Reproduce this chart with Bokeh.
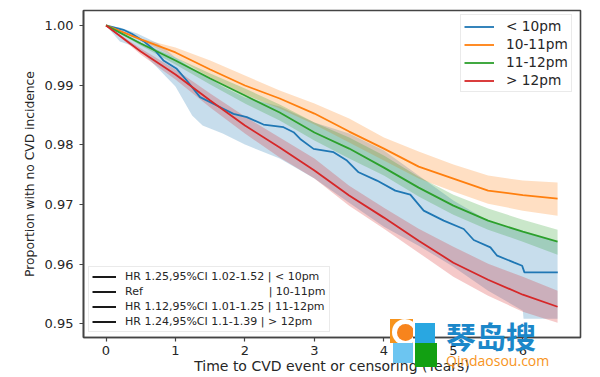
from bokeh.plotting import figure
from bokeh.embed import file_html
from bokeh.resources import INLINE
from bokeh.layouts import column
from bokeh.models import Legend, LegendItem, Range1d, FixedTicker, PrintfTickFormatter, Div

NB = "\u00a0"
NAN = float("nan")
t = [0, .5, 1, 1.5, 2, 2.5, 3, 3.5, 4, 4.5, 5, 5.5, 6, 6.5]

orange = [1, .99765, .99547, .99262, .98993, .98775, .98523, .98221, .97936, .97634, .97433, .97232, .97156, .97097]
orange_hi = [1, .99782, .99631, .99413, .99161, .98909, .98691, .9844, .98121, .97886, .97668, .97483, .97399, .97366]
orange_lo = [1, .99748, .99463, .99128, .98842, .98607, .98339, .98037, .97735, .97433, .97215, .97013, .96896, .96812]

green = [1, .99698, .99413, .99111, .98826, .9854, .98205, .97936, .97617, .97282, .9698, .96728, .96544, .96376]
green_hi = [1, .99715, .99463, .99195, .98943, .98674, .98372, .98121, .97819, .97466, .97164, .9693, .96745, .96577]
green_lo = [1, .99664, .99346, .9901, .98691, .98406, .9807, .97768, .97483, .97131, .96829, .96577, .96376, .96158]

red = [1, .99564, .99178, .98742, .98322, .97953, .97567, .97148, .96779, .96393, .96023, .95738, .95487, .95285]
red_hi = [1, .99614, .99262, .98859, .98473, .98121, .97768, .97315, .96946, .96594, .96292, .96007, .95789, .95554]
red_lo = [1, .99513, .99094, .98624, .98188, .97785, .97433, .9698, .96594, .96191, .95789, .9547, .95201, .95017]

blue_t = [0, .25, .37, .54, .706, .826, 1.018, 1.162, 1.354, 1.595, 1.835, 2.027, 2.267, 2.555, 2.70, 2.795, 2.988,
          3.276, 3.468, 3.636, 3.90, 4.164, 4.38, 4.573, 4.861, 5.149, 5.293, 5.533, 5.63, 5.869, 5.99, 6.023, 6.503]
blue = [1, .99927, .9986, .99737, .9958, .99413, .99273, .99077, .98798, .98658, .98518, .98462, .98339, .98294, .9821,
        .98098, .97931, .97875, .97735, .97539, .974, .97232, .97164, .96896, .96728, .96588, .96404, .96281, .96141,
        .96029, .95973, .95861, .95861]
blue_band_t = [0, .2, .45, .75, 1, 1.24, 1.39, 1.68, 2, 2.5, 3, 3.5, 4, 4.5, 5, 5.5, 6, 6.01, 6.5]
blue_hi = [1, .99966, .99866, .99698, .99463, .99279, .99178, .98977, .98792, .98641, .98372, .98188, .97903, .97483,
           .97064, .96728, .96544, .96544, .96376]
blue_lo = [1, .99732, .99631, .99279, .98977, .9849, .98322, .98188, .98003, .97768, .97433, .9703, .96628, .96309,
           .95956, .95554, .95218, .95084, .95084]

time_labels = ["< 10pm", "10-11pm", "11-12pm", "> 12pm"]
hr_labels = ["HR 1.25,95%CI 1.02-1.52 | < 10pm",
             "Ref" + NB * 36 + "| 10-11pm",
             "HR 1.12,95%CI 1.01-1.25 | 11-12pm",
             "HR 1.24,95%CI 1.1-1.39 | > 12pm"]
x_ticks = [0, 1, 2, 3, 4, 5, 6]
y_ticks = [.95, .96, .97, .98, .99, 1.0]
colors = ["#1f77b4", "#ff7f0e", "#2ca02c", "#d62728"]
FONT = "DejaVu Sans"
INK = "#262626"

p = figure(width=600, height=377, output_backend="svg", toolbar_location=None,
           x_range=Range1d(-.324, 6.83), y_range=Range1d(.9477, 1.0025),
           min_border_left=83, min_border_right=20, min_border_top=10, min_border_bottom=40,
           x_axis_label="Time to CVD event or censoring (Years)",
           y_axis_label="Proportion with no CVD incidence")
p.grid.visible = False
p.outline_line_color = "#444444"
p.outline_line_width = 1.6
for ax in (p.xaxis[0], p.yaxis[0]):
    ax.axis_line_color = "#444444"
    ax.axis_line_width = 1.6
    ax.major_tick_line_color = "#444444"
    ax.major_tick_line_width = 1.2
    ax.major_tick_out = 4
    ax.major_tick_in = 0
    ax.minor_tick_line_color = None
    ax.major_label_text_font = FONT
    ax.major_label_text_font_size = "13px"
    ax.major_label_text_color = INK
    ax.axis_label_text_font = FONT
    ax.axis_label_text_font_style = "normal"
    ax.axis_label_text_color = INK
p.xaxis.ticker = FixedTicker(ticks=x_ticks)
p.yaxis.ticker = FixedTicker(ticks=y_ticks)
p.yaxis.formatter = PrintfTickFormatter(format="%.2f")
p.xaxis.axis_label_text_font_size = "14px"
p.yaxis.axis_label_text_font_size = "12.3px"
p.xaxis.major_label_standoff = 4
p.xaxis.axis_label_standoff = 0
p.yaxis.major_label_standoff = 6
p.yaxis.axis_label_standoff = 5

p.varea(blue_band_t, blue_lo, blue_hi, fill_color=colors[0], fill_alpha=.25)
p.varea(t, orange_lo, orange_hi, fill_color=colors[1], fill_alpha=.25)
p.varea(t, green_lo, green_hi, fill_color=colors[2], fill_alpha=.25)
p.varea(t, red_lo, red_hi, fill_color=colors[3], fill_alpha=.25)
r0 = p.line(blue_t, blue, line_color=colors[0], line_width=1.8)
r1 = p.line(t, orange, line_color=colors[1], line_width=1.8)
r2 = p.line(t, green, line_color=colors[2], line_width=1.8)
r3 = p.line(t, red, line_color=colors[3], line_width=1.8)

leg1 = Legend(items=[LegendItem(label=l, renderers=[r]) for l, r in zip(time_labels, [r0, r1, r2, r3])],
              location=(377, 245), orientation="vertical", margin=0, padding=3, spacing=2,
              glyph_width=30, glyph_height=15, label_height=15, label_standoff=12,
              label_text_font=FONT, label_text_font_size="13.7px", label_text_color=INK,
              border_line_color="#d5d5d5", border_line_width=1.2, background_fill_alpha=.9)
p.add_layout(leg1)

black = [p.line([0, 0], [NAN, NAN], line_color="black", line_width=1.8) for _ in hr_labels]
leg2 = Legend(items=[LegendItem(label=l, renderers=[r]) for l, r in zip(hr_labels, black)],
              location=(5, 5), orientation="vertical", margin=0, padding=3, spacing=2,
              glyph_width=24, glyph_height=13, label_height=13, label_standoff=9,
              label_text_font=FONT, label_text_font_size="11px", label_text_color=INK,
              border_line_color="#d5d5d5", border_line_width=1.2, background_fill_alpha=.9)
p.add_layout(leg2)


def box(x, y, w, h, color, inner=""):
    return (f'<div style="position:absolute;left:{x}px;top:{y}px;width:{w}px;height:{h}px;'
            f'background:{color};overflow:hidden">{inner}</div>')


def text(x, y, s, font, size, color, weight="normal"):
    return (f'<div style="position:absolute;left:{x}px;top:{y}px;white-space:nowrap;line-height:1;'
            f'font-family:\'{font}\';font-size:{size}px;font-weight:{weight};color:{color}">{s}</div>')


ring = ('<div style="position:absolute;left:2px;top:0px;width:26px;height:26px;border-radius:50%;background:white"></div>'
        '<div style="position:absolute;left:7px;top:5px;width:17px;height:17px;border-radius:50%;background:#f7841d"></div>')
watermark = "".join([
    box(390, 319, 23, 24, "#f7941d", ring),
    box(415, 323, 20, 20, "#29a7e1"),
    box(393, 343, 20, 20, "#6cc5f1"),
    box(415, 343, 22, 24, "#12a012"),
    text(446, 320, "琴岛搜", "Noto Sans CJK SC", 30, "#1b87c9", "bold"),
    text(446, 354, "Qindaosou.com", "Open Sans", 14, "#f7941d"),
])
wm = Div(text=watermark, width=0, height=0, margin=0,
         styles={"position": "absolute", "left": "0px", "top": "0px", "z-index": "10", "overflow": "visible"})

open("out.html", "w").write(file_html(column(p, wm, spacing=0), INLINE))
